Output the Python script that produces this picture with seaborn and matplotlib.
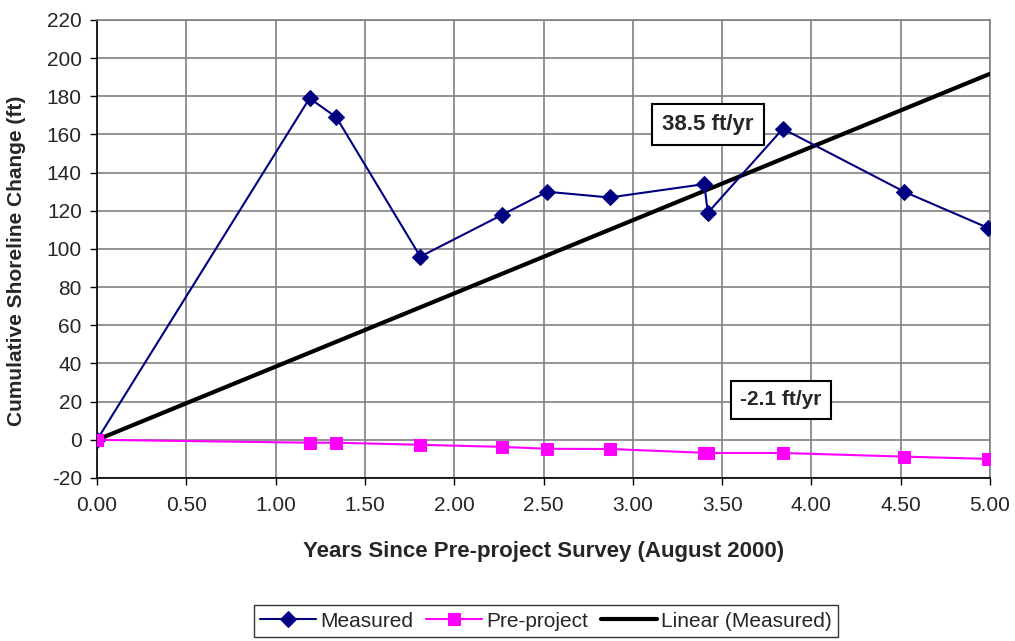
import matplotlib
matplotlib.use("Agg")
import matplotlib.pyplot as plt
import numpy as np
import pandas as pd
import seaborn as sns

# Data
years = [0.00, 1.19, 1.34, 1.81, 2.27, 2.52, 2.87, 3.40, 3.42, 3.84, 4.52, 4.99]
measured = [0, 179, 169, 96, 118, 130, 127, 134, 119, 163, 130, 111]
pre_project = [0, -1.5, -1.5, -2.6, -3.7, -4.7, -4.8, -6.8, -6.9, -6.9, -8.8, -10.0]
xticks = [0.0, 0.5, 1.0, 1.5, 2.0, 2.5, 3.0, 3.5, 4.0, 4.5, 5.0]
yticks = list(range(-20, 221, 20))
trend_label = "38.5 ft/yr"
pre_label = "-2.1 ft/yr"

sns.set_style("white")
plt.rcParams["font.family"] = ["Liberation Sans", "DejaVu Sans"]
plt.rcParams["axes.unicode_minus"] = False

df = pd.DataFrame({"years": years, "measured": measured, "pre": pre_project})

# Linear trend through origin (Excel trendline with intercept fixed at 0)
x = np.array(years)
y = np.array(measured)
slope = (x * y).sum() / (x * x).sum()
trend_x = np.array([0.0, 5.0])
trend_y = slope * trend_x

fig = plt.figure(figsize=(10.15, 6.41), dpi=100)
ax = fig.add_axes([0.0956, 0.2543, 0.8798, 0.7145])

sns.lineplot(data=df, x="years", y="measured", ax=ax, color="#000080",
             marker="D", markersize=8, markeredgecolor="#000080",
             linewidth=1.5, label="Measured", zorder=4)
sns.lineplot(data=df, x="years", y="pre", ax=ax, color="#FF00FF",
             marker="s", markersize=8, markeredgecolor="#FF00FF",
             linewidth=1.5, label="Pre-project", zorder=4)
ax.plot(trend_x, trend_y, color="black", linewidth=3, label="Linear (Measured)", zorder=3)

ax.set_xlim(0, 5)
ax.set_ylim(-20, 220)
ax.set_xticks(xticks)
ax.set_xticklabels([f"{t:.2f}" for t in xticks])
ax.set_yticks(yticks)
ax.tick_params(axis="both", labelsize=15, length=5, width=1, direction="out",
               color="black", bottom=True, left=True)
ax.tick_params(axis="x", pad=8)
ax.tick_params(axis="y", pad=6)
ax.grid(True, color="#808080", linewidth=1.2)
for s in ax.spines.values():
    s.set_color("#808080")
    s.set_linewidth(1.2)
ax.spines["bottom"].set_color("black")
ax.spines["left"].set_color("black")

ax.set_xlabel("Years Since Pre-project Survey (August 2000)", fontsize=16,
              fontweight="bold", labelpad=19)
ax.set_ylabel("Cumulative Shoreline Change (ft)", fontsize=15,
              fontweight="bold")
ax.yaxis.set_label_coords(-0.0795, 0.475)

box = dict(boxstyle="square,pad=0.45", facecolor="white", edgecolor="black", linewidth=1.5)
ax.text(3.42, 165, trend_label, fontsize=16, fontweight="bold", ha="center",
        va="center", bbox=box, zorder=6)
ax.text(3.83, 21, pre_label, fontsize=15, fontweight="bold", ha="center",
        va="center", bbox=box, zorder=6)

leg = ax.legend(loc="upper center", bbox_to_anchor=(0.538, 0.072),
                bbox_transform=fig.transFigure, ncol=3, fontsize=15,
                frameon=True, fancybox=False, edgecolor="black", borderpad=0.3,
                handlelength=2.7, handletextpad=0.2, columnspacing=0.6)
leg.get_frame().set_linewidth(1.0)

fig.savefig("out.png", dpi=100)
